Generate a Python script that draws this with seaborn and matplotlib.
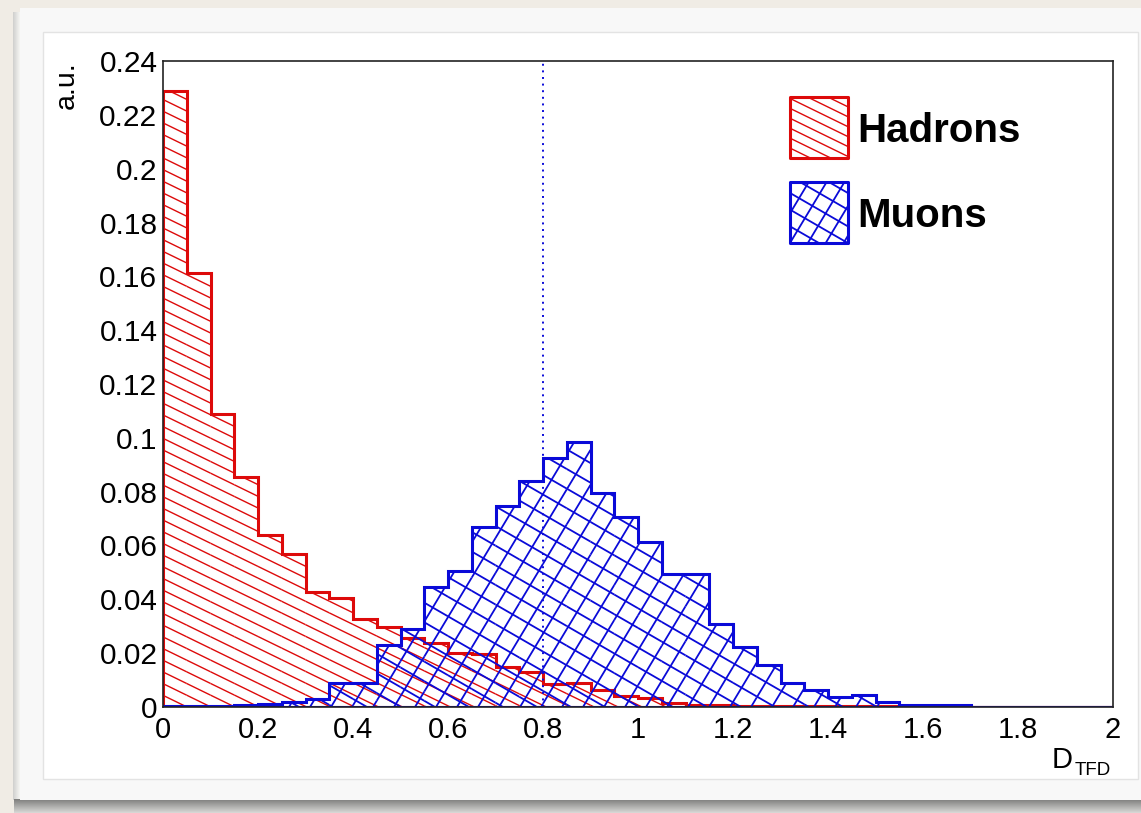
import numpy as np
import pandas as pd
import matplotlib
matplotlib.use("Agg")
import matplotlib.pyplot as plt
import seaborn as sns
from matplotlib.collections import LineCollection
from matplotlib.patches import Rectangle
from matplotlib.ticker import MultipleLocator

# ---- data: normalised D_TFD distributions, 40 bins of width 0.05 on [0, 2]
bin_edges = [round(0.05 * i, 2) for i in range(41)]
bin_centers = [round(0.05 * i + 0.025, 3) for i in range(40)]

hadrons = [0.2290, 0.1612, 0.1088, 0.0855, 0.0640, 0.0568, 0.0428, 0.0405,
           0.0327, 0.0297, 0.0256, 0.0238, 0.0201, 0.0197, 0.0149, 0.0130,
           0.0084, 0.0089, 0.0063, 0.0040, 0.0035, 0.0015, 0.0008, 0.0008,
           0.0005, 0.0004, 0.0003, 0.0003, 0.0002, 0.0002, 0.0002, 0.0002,
           0.0002, 0.0002, 0.0, 0.0, 0.0, 0.0, 0.0, 0.0]
muons = [0.0002, 0.0003, 0.0004, 0.0006, 0.0010, 0.0019, 0.0031, 0.0089,
         0.0089, 0.0230, 0.0290, 0.0445, 0.0505, 0.0668, 0.0745, 0.0840,
         0.0925, 0.0985, 0.0795, 0.0706, 0.0613, 0.0494, 0.0494, 0.0310,
         0.0223, 0.0156, 0.0088, 0.0063, 0.0037, 0.0045, 0.0020, 0.0008,
         0.0008, 0.0008, 0.0, 0.0, 0.0, 0.0, 0.0, 0.0]

cut_value = 0.8

y_ticks = [0, 0.02, 0.04, 0.06, 0.08, 0.1, 0.12, 0.14, 0.16, 0.18, 0.2, 0.22, 0.24]
y_tick_labels = ["0", "0.02", "0.04", "0.06", "0.08", "0.1", "0.12", "0.14",
                 "0.16", "0.18", "0.2", "0.22", "0.24"]
x_ticks = [0, 0.2, 0.4, 0.6, 0.8, 1.0, 1.2, 1.4, 1.6, 1.8, 2.0]
x_tick_labels = ["0", "0.2", "0.4", "0.6", "0.8", "1", "1.2", "1.4", "1.6", "1.8", "2"]

series_names = ["Hadrons", "Muons"]

# ---- style
sns.set_style("white")
plt.rcParams["font.family"] = ["Liberation Sans", "DejaVu Sans"]
plt.rcParams["text.color"] = "black"

RED = "#dd0a0a"
BLUE = "#0a0ad8"

W, H = 1141, 813
fig = plt.figure(figsize=(W / 100, H / 100), dpi=100)
fig.patch.set_facecolor("#f0ece5")


def px_rect(x0, y0, x1, y1, **kw):
    """Rectangle given in pixel coordinates measured from the top-left corner."""
    r = Rectangle((x0 / W, 1 - y1 / H), (x1 - x0) / W, (y1 - y0) / H,
                  transform=fig.transFigure, **kw)
    fig.add_artist(r)
    return r


# card with a soft drop shadow
for i in range(7):
    shade = 0.82 + 0.022 * i
    px_rect(13 + i, 12, 20, 800, facecolor=(shade, shade, shade * 0.99),
            edgecolor="none", zorder=-20)
for i in range(14):
    shade = 0.50 + 0.026 * i
    px_rect(14, 799 + i, W + 5, 800 + i, facecolor=(shade, shade, shade * 0.99),
            edgecolor="none", zorder=-20)
px_rect(20, 8, W + 10, 800, facecolor="#f8f8f8", edgecolor="none", zorder=-15)
px_rect(43, 32, 1138, 779, facecolor="white", edgecolor="#e3e3e3",
        linewidth=1.0, zorder=-14)

# ---- axes
ax = fig.add_axes([163 / W, 1 - 707 / H, 950 / W, 646 / H])
ax.set_facecolor("white")


def hatch_in_boxes(boxes, origin, angle, spacing):
    """Segments of one family of parallel lines (display coords) cut to boxes.

    boxes: list of (x0, y0, x1, y1) in display coordinates.
    """
    th = np.deg2rad(angle)
    u = np.array([np.cos(th), np.sin(th)])
    n = np.array([-np.sin(th), np.cos(th)])
    o = np.asarray(origin, dtype=float)
    segs = []
    for (x0, y0, x1, y1) in boxes:
        if x1 - x0 < 1e-9 or y1 - y0 < 1e-9:
            continue
        corners = np.array([[x0, y0], [x1, y0], [x0, y1], [x1, y1]])
        proj = (corners - o) @ n
        kmin = int(np.floor(proj.min() / spacing))
        kmax = int(np.ceil(proj.max() / spacing))
        for k in range(kmin, kmax + 1):
            p0 = o + n * k * spacing
            tlo, thi = -np.inf, np.inf
            ok = True
            for d, lo, hi in ((0, x0, x1), (1, y0, y1)):
                if abs(u[d]) < 1e-12:
                    if p0[d] < lo or p0[d] > hi:
                        ok = False
                    continue
                ta, tb = (lo - p0[d]) / u[d], (hi - p0[d]) / u[d]
                tlo = max(tlo, min(ta, tb))
                thi = min(thi, max(ta, tb))
            if ok and thi > tlo:
                segs.append([p0 + u * tlo, p0 + u * thi])
    return np.array(segs).reshape(-1, 2, 2)


hist_styles = {
    "Hadrons": dict(values=hadrons, color=RED, hatch=[(-26, 10.5)], hatch_lw=1.0, z=2),
    "Muons": dict(values=muons, color=BLUE, hatch=[(-30, 17), (59, 18)], hatch_lw=1.3, z=4),
}

for name in series_names:
    st = hist_styles[name]
    frame = pd.DataFrame({"D_TFD": bin_centers, "weight": st["values"]})
    n_before = len(ax.collections)
    sns.histplot(data=frame, x="D_TFD", weights="weight", bins=bin_edges,
                 element="step", fill=True, color=st["color"], alpha=1,
                 linewidth=2.2, ax=ax)
    poly = ax.collections[n_before]
    poly.set_facecolor("none")
    poly.set_edgecolor(st["color"])
    poly.set_linewidth(2.2)
    poly.set_joinstyle("miter")
    poly.set_zorder(st["z"] + 0.5)

ax.set_xlim(0, 2)
ax.set_ylim(0, 0.24)

# hatching inside every bin of each histogram
inv = ax.transData.inverted()
origin = (ax.bbox.x0, ax.bbox.y0)
for name in series_names:
    st = hist_styles[name]
    boxes = []
    for left, right, h in zip(bin_edges[:-1], bin_edges[1:], st["values"]):
        if h <= 0:
            continue
        (dx0, dy0), (dx1, dy1) = ax.transData.transform([[left, 0.0], [right, h]])
        boxes.append((dx0, dy0, dx1, dy1))
    for angle, spacing in st["hatch"]:
        segs = hatch_in_boxes(boxes, origin, angle, spacing)
        if len(segs) == 0:
            continue
        segs_data = inv.transform(segs.reshape(-1, 2)).reshape(-1, 2, 2)
        lc = LineCollection(segs_data, colors=st["color"],
                            linewidths=st["hatch_lw"], zorder=st["z"])
        ax.add_collection(lc, autolim=False)

# cut position
ax.axvline(cut_value, color=BLUE, linewidth=1.4, linestyle=(0, (1, 2.4)), zorder=6)

# ---- axis cosmetics
for side in ["top", "bottom", "left", "right"]:
    ax.spines[side].set_visible(True)
    ax.spines[side].set_color("#222222")
    ax.spines[side].set_linewidth(1.2)
    ax.spines[side].set_zorder(10)

ax.set_xticks(x_ticks)
ax.set_xticklabels(x_tick_labels)
ax.set_yticks(y_ticks)
ax.set_yticklabels(y_tick_labels)
ax.xaxis.set_minor_locator(MultipleLocator(0.05))
ax.yaxis.set_minor_locator(MultipleLocator(0.005))
ax.tick_params(axis="both", which="both", direction="in", colors="#333333",
               width=1.0, top=False, right=False, zorder=10)
ax.tick_params(axis="x", which="major", length=13, pad=6.5, labelsize=21,
               labelcolor="black")
ax.tick_params(axis="x", which="minor", length=7)
ax.tick_params(axis="y", which="major", length=19.5, pad=4, labelsize=21.5,
               labelcolor="black")
ax.tick_params(axis="y", which="minor", length=10)
ax.set_xlabel("")
ax.set_ylabel("")

# axis titles
ax.text(-0.101, 1.0, "a.u.", transform=ax.transAxes, rotation=90,
        ha="center", va="top", fontsize=20.5)
fig.text(1052 / W, 1 - 768 / H, "D", fontsize=21, ha="left", va="baseline")
fig.text(1075 / W, 1 - 775 / H, "TFD", fontsize=13.5, ha="left", va="baseline")

# ---- legend
finv = fig.transFigure.inverted()
legend_rows = [("Hadrons", 97, 158, 142), ("Muons", 182, 243, 227)]
for name, top, bottom, base in legend_rows:
    st = hist_styles[name]
    box = px_rect(790, top, 848, bottom, facecolor="none", edgecolor=st["color"],
                  linewidth=2.2, joinstyle="round", zorder=12)
    bx0, by0 = 790, H - bottom
    bx1, by1 = 848, H - top
    for angle, spacing in st["hatch"]:
        segs = hatch_in_boxes([(bx0, by0, bx1, by1)], (bx0, by0), angle, spacing * 0.85)
        segs_fig = finv.transform(segs.reshape(-1, 2)).reshape(-1, 2, 2)
        lc = LineCollection(segs_fig, colors=st["color"], linewidths=st["hatch_lw"],
                            transform=fig.transFigure, zorder=11)
        fig.add_artist(lc)
    fig.text(857 / W, 1 - base / H, name, fontsize=29, fontweight="bold",
             ha="left", va="baseline", zorder=12)

fig.savefig("out.png", dpi=100)
